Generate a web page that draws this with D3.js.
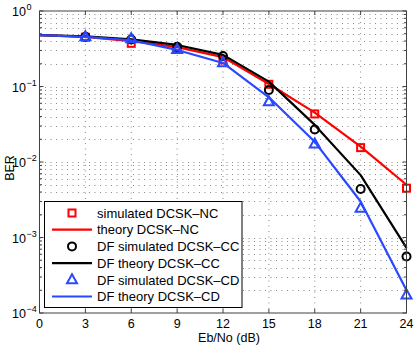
<!DOCTYPE html>
<html>
<head>
<meta charset="utf-8">
<script src="https://cdn.jsdelivr.net/npm/d3@7"></script>
<style>
  body { margin: 0; background: #fff; }
  svg { display: block; font-family: "Liberation Sans", Arial, sans-serif; }
</style>
</head>
<body>
<svg id="chart" width="415" height="346"></svg>
<script>
// Eb/No points (dB)
const snrTheory = [0, 3, 6, 9, 12, 15, 18, 21, 24];
const snrSim = [3, 6, 9, 12, 15, 18, 21, 24];

// theory curves
const theoryNC = [0.48, 0.455, 0.40, 0.333, 0.245, 0.108, 0.045, 0.016, 0.005];
const theoryCC = [0.48, 0.46, 0.42, 0.355, 0.262, 0.116, 0.031, 0.0067, 0.00073];
const theoryCD = [0.48, 0.455, 0.41, 0.305, 0.205, 0.072, 0.0185, 0.003, 0.0002];

// simulated points
const simNC = [0.45, 0.373, 0.32, 0.225, 0.107, 0.0433, 0.0155, 0.0045];
const simCC = [0.455, 0.42, 0.337, 0.253, 0.09, 0.027, 0.0044, 0.00056];
const simCD = [0.457, 0.43, 0.31, 0.207, 0.063, 0.0173, 0.00244, 0.000173];

const xTicks = [0, 3, 6, 9, 12, 15, 18, 21, 24];
const yDecades = [-4, -3, -2, -1, 0];

const legendLabels = [
    'simulated DCSK\u2013NC',
    'theory DCSK\u2013NC',
    'DF simulated DCSK\u2013CC',
    'DF theory DCSK\u2013CC',
    'DF simulated DCSK\u2013CD',
    'DF theory DCSK\u2013CD'
];

const RED = '#ff0000', BLACK = '#000000', BLUE = '#2a48ff';

const svg = d3.select('#chart');
const pLeft = 39.5, pRight = 406.5, pTop = 11, pBottom = 313;

const x = d3.scaleLinear().domain([0, 24]).range([pLeft, pRight]);
const y = d3.scaleLog().domain([1e-4, 1]).range([pBottom, pTop]);

// grid
const grid = svg.append('g')
    .attr('stroke', '#8a8a8a')
    .attr('stroke-width', 1)
    .attr('stroke-dasharray', '1,4.5');

xTicks.slice(1, -1).forEach(t => {
    grid.append('line')
        .attr('x1', x(t)).attr('x2', x(t))
        .attr('y1', pTop).attr('y2', pBottom);
});

const yMinor = [];
yDecades.slice(0, -1).forEach(e => {
    for (let k = 1; k <= 9; k++) yMinor.push(k * Math.pow(10, e));
});
yMinor.filter(v => v > 1e-4).forEach(v => {
    grid.append('line')
        .attr('x1', pLeft).attr('x2', pRight)
        .attr('y1', Math.round(y(v)) + 0.5).attr('y2', Math.round(y(v)) + 0.5);
});

// curves
const line = d3.line().x(d => x(d[0])).y(d => y(d[1]));

function drawLine(xs, ys, color) {
    svg.append('path')
        .datum(xs.map((v, i) => [v, ys[i]]))
        .attr('d', line)
        .attr('fill', 'none')
        .attr('stroke', color)
        .attr('stroke-width', 2.2)
        .attr('stroke-linejoin', 'round');
}

function marker(g, kind, color) {
    if (kind === 'square') {
        g.append('rect').attr('x', -3.5).attr('y', -3.5).attr('width', 7).attr('height', 7)
            .attr('fill', 'none').attr('stroke', color).attr('stroke-width', 2);
    } else if (kind === 'circle') {
        g.append('circle').attr('r', 4)
            .attr('fill', 'none').attr('stroke', color).attr('stroke-width', 2);
    } else {
        g.append('path').attr('d', 'M0,-5.5L5,3.5L-5,3.5Z')
            .attr('fill', 'none').attr('stroke', color).attr('stroke-width', 2);
    }
}

function drawMarkers(xs, ys, kind, color) {
    xs.forEach((v, i) => {
        const g = svg.append('g').attr('transform', `translate(${x(v)},${y(ys[i])})`);
        marker(g, kind, color);
    });
}

drawMarkers(snrSim, simNC, 'square', RED);
drawLine(snrTheory, theoryNC, RED);
drawMarkers(snrSim, simCC, 'circle', BLACK);
drawLine(snrTheory, theoryCC, BLACK);
drawMarkers(snrSim, simCD, 'triangle', BLUE);
drawLine(snrTheory, theoryCD, BLUE);

// axes box and ticks
const axisColor = '#404040';
svg.append('rect')
    .attr('x', pLeft).attr('y', pTop)
    .attr('width', pRight - pLeft).attr('height', pBottom - pTop)
    .attr('fill', 'none').attr('stroke', axisColor).attr('stroke-width', 1);

const ticks = svg.append('g').attr('stroke', axisColor).attr('stroke-width', 1);
xTicks.forEach(t => {
    ticks.append('line').attr('x1', x(t)).attr('x2', x(t)).attr('y1', pBottom).attr('y2', pBottom - 4);
    ticks.append('line').attr('x1', x(t)).attr('x2', x(t)).attr('y1', pTop).attr('y2', pTop + 4);
});
yMinor.concat([1]).forEach(v => {
    const len = (Math.abs(Math.log10(v) - Math.round(Math.log10(v))) < 1e-9) ? 4 : 2.5;
    ticks.append('line').attr('x1', pLeft).attr('x2', pLeft + len).attr('y1', y(v)).attr('y2', y(v));
    ticks.append('line').attr('x1', pRight).attr('x2', pRight - len).attr('y1', y(v)).attr('y2', y(v));
});

// tick labels
svg.append('g').selectAll('text')
    .data(xTicks)
    .join('text')
    .attr('x', d => x(d))
    .attr('y', pBottom + 14.5)
    .attr('text-anchor', 'middle')
    .attr('font-size', 12.5)
    .text(d => d);

yDecades.forEach(e => {
    svg.append('text')
        .attr('x', 26).attr('y', y(Math.pow(10, e)) + 5)
        .attr('text-anchor', 'end')
        .attr('font-size', 12.5)
        .text('10');
    svg.append('text')
        .attr('x', 26.5).attr('y', y(Math.pow(10, e)) - 1)
        .attr('font-size', 9)
        .text(e === 0 ? '0' : '\u2212' + (-e));
});

// axis labels
svg.append('text')
    .attr('x', 229).attr('y', 342)
    .attr('text-anchor', 'middle')
    .attr('font-size', 12.5)
    .text('Eb/No (dB)');

svg.append('text')
    .attr('transform', 'translate(14,168) rotate(-90)')
    .attr('text-anchor', 'middle')
    .attr('font-size', 12.5)
    .text('BER');

// legend
const lg = svg.append('g');
lg.append('rect')
    .attr('x', 44.5).attr('y', 201.5)
    .attr('width', 197.5).attr('height', 106)
    .attr('fill', '#fff').attr('stroke', BLACK).attr('stroke-width', 1);

const legendStyle = [
    { kind: 'square', color: RED },
    { kind: 'line', color: RED },
    { kind: 'circle', color: BLACK },
    { kind: 'line', color: BLACK },
    { kind: 'triangle', color: BLUE },
    { kind: 'line', color: BLUE }
];

legendLabels.forEach((label, i) => {
    const cy = 213 + i * 16.7;
    const s = legendStyle[i];
    if (s.kind === 'line') {
        lg.append('line').attr('x1', 52).attr('x2', 92).attr('y1', cy).attr('y2', cy)
            .attr('stroke', s.color).attr('stroke-width', 2.2);
    } else {
        marker(lg.append('g').attr('transform', `translate(72,${cy})`), s.kind, s.color);
    }
    lg.append('text')
        .attr('x', 97).attr('y', cy + 4.7)
        .attr('font-size', 13)
        .text(label);
});
</script>
</body>
</html>
